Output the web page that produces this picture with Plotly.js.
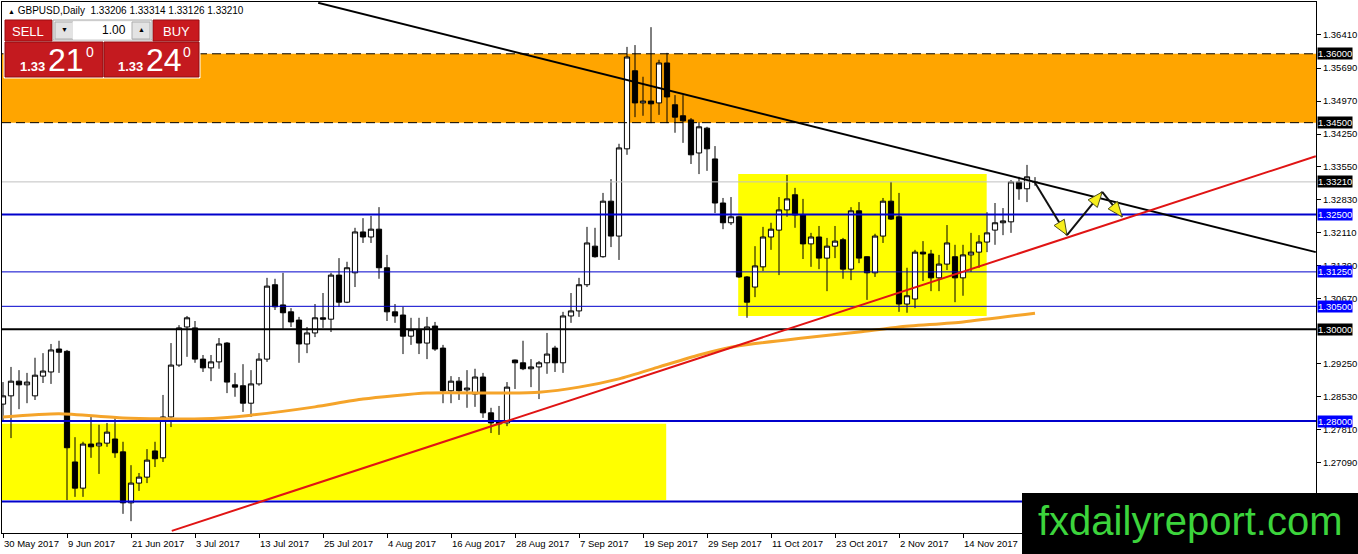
<!DOCTYPE html>
<html>
<head>
<meta charset="utf-8">
<script src="https://cdn.plot.ly/plotly-3.0.1.min.js"></script>
<style>
  body { margin: 0; background: #fff; }
  #chart { width: 1358px; height: 554px; }
</style>
</head>
<body>
<div id="chart"></div>
<script>
// GBPUSD daily, 30 May 2017 -> 27 Nov 2017 (one bar per trading day)

const opens = [
  1.2837, 1.2855, 1.2887, 1.2879, 1.2855, 1.2898, 1.2907, 1.2957, 1.2952, 1.2711,
  1.2654, 1.2750, 1.2746, 1.2752, 1.2761, 1.2733, 1.2622, 1.2665, 1.2678, 1.2735,
  1.2720, 1.2809, 1.2922, 1.3005, 1.3003, 1.2935, 1.2916, 1.2929, 1.2970, 1.2879,
  1.2877, 1.2839, 1.2881, 1.2935, 1.3097, 1.3053, 1.3038, 1.3020, 1.2968, 1.2992,
  1.3025, 1.3022, 1.3118, 1.3059, 1.3123, 1.3212, 1.3201, 1.3218, 1.3134, 1.3038,
  1.3031, 1.2985, 1.2999, 1.2970, 1.3007, 1.2959, 1.2866, 1.2887, 1.2868, 1.2859,
  1.2896, 1.2818, 1.2800, 1.2796, 1.2933, 1.2927, 1.2914, 1.2918, 1.2927, 1.2959,
  1.2927, 1.3029, 1.3040, 1.3097, 1.3181, 1.3158, 1.3279, 1.3203, 1.3393, 1.3563,
  1.3493, 1.3497, 1.3493, 1.3580, 1.3489, 1.3465, 1.3456, 1.3384, 1.3438, 1.3371,
  1.3275, 1.3232, 1.3245, 1.3114, 1.3092, 1.3136, 1.3201, 1.3216, 1.3260, 1.3293,
  1.3249, 1.3186, 1.3201, 1.3155, 1.3181, 1.3195, 1.3131, 1.3258, 1.3158, 1.3123,
  1.3203, 1.3279, 1.3245, 1.3055, 1.3066, 1.3168, 1.3164, 1.3112, 1.3142, 1.3158,
  1.3112, 1.3162, 1.3168, 1.3190, 1.3216, 1.3232, 1.3234, 1.3321, 1.3306, 1.33206
];
const highs = [
  1.2885, 1.2918, 1.2911, 1.2905, 1.2938, 1.2948, 1.2968, 1.2975, 1.2955, 1.2765,
  1.2755, 1.2813, 1.2792, 1.2796, 1.2809, 1.2755, 1.2704, 1.2687, 1.2739, 1.2755,
  1.2857, 1.2970, 1.3009, 1.3029, 1.3018, 1.2944, 1.2944, 1.2981, 1.2972, 1.2905,
  1.2924, 1.2911, 1.2948, 1.3112, 1.3110, 1.3123, 1.3046, 1.3027, 1.3005, 1.3055,
  1.3079, 1.3123, 1.3155, 1.3147, 1.3221, 1.3242, 1.3247, 1.3266, 1.3162, 1.3055,
  1.3049, 1.3025, 1.3025, 1.3027, 1.3016, 1.2966, 1.2898, 1.2896, 1.2911, 1.2914,
  1.2905, 1.2829, 1.2833, 1.2885, 1.2934, 1.2975, 1.2935, 1.2931, 1.2992, 1.2964,
  1.3038, 1.3079, 1.3112, 1.3223, 1.3221, 1.3297, 1.3327, 1.3404, 1.3615, 1.3619,
  1.3550, 1.3658, 1.3587, 1.3602, 1.3510, 1.3510, 1.3460, 1.3451, 1.3441, 1.3399,
  1.3286, 1.3288, 1.3246, 1.3116, 1.3181, 1.3223, 1.3232, 1.3288, 1.3336, 1.3308,
  1.3284, 1.3210, 1.3225, 1.3199, 1.3225, 1.3199, 1.3266, 1.3277, 1.3159, 1.3208,
  1.3286, 1.3321, 1.3297, 1.3134, 1.3173, 1.3192, 1.3173, 1.3162, 1.3227, 1.3184,
  1.3184, 1.3210, 1.3205, 1.3255, 1.3275, 1.3264, 1.3325, 1.3332, 1.3358, 1.33314
];
const lows = [
  1.2802, 1.2763, 1.2826, 1.2839, 1.2846, 1.2883, 1.2881, 1.2905, 1.2628, 1.2635,
  1.2635, 1.2720, 1.2685, 1.2744, 1.2720, 1.2598, 1.2582, 1.2648, 1.2665, 1.2700,
  1.2711, 1.2787, 1.2918, 1.2940, 1.2927, 1.2907, 1.2887, 1.2914, 1.2861, 1.2853,
  1.2820, 1.2809, 1.2877, 1.2929, 1.3042, 1.3001, 1.3005, 1.2927, 1.2948, 1.2983,
  1.3003, 1.2994, 1.3049, 1.3057, 1.3092, 1.3188, 1.3188, 1.3110, 1.3018, 1.3014,
  1.2946, 1.2966, 1.2946, 1.2935, 1.2953, 1.2839, 1.2839, 1.2846, 1.2829, 1.2831,
  1.2807, 1.2774, 1.2770, 1.2789, 1.2870, 1.2911, 1.2874, 1.2848, 1.2903, 1.2907,
  1.2905, 1.3014, 1.3027, 1.3092, 1.3156, 1.3156, 1.3179, 1.3151, 1.3380, 1.3462,
  1.3465, 1.3449, 1.3467, 1.3449, 1.3428, 1.3406, 1.3360, 1.3338, 1.3345, 1.3253,
  1.3218, 1.3227, 1.3112, 1.3025, 1.3070, 1.3127, 1.3173, 1.3118, 1.3245, 1.3221,
  1.3153, 1.3136, 1.3131, 1.3083, 1.3155, 1.3110, 1.3107, 1.3144, 1.3064, 1.3114,
  1.3188, 1.3238, 1.3038, 1.3036, 1.3046, 1.3105, 1.3083, 1.3083, 1.3129, 1.3059,
  1.3073, 1.3125, 1.3134, 1.3168, 1.3184, 1.3205, 1.3210, 1.3282, 1.3277, 1.33126
];
const closes = [
  1.2855, 1.2887, 1.2879, 1.2885, 1.2900, 1.2909, 1.2955, 1.2950, 1.2742, 1.2654,
  1.2750, 1.2744, 1.2752, 1.2776, 1.2731, 1.2622, 1.2665, 1.2678, 1.2715, 1.2718,
  1.2809, 1.2922, 1.3003, 1.3025, 1.2935, 1.2916, 1.2929, 1.2968, 1.2885, 1.2874,
  1.2839, 1.2881, 1.2935, 1.3094, 1.3049, 1.3036, 1.3016, 1.2968, 1.2992, 1.3025,
  1.3022, 1.3118, 1.3059, 1.3134, 1.3212, 1.3201, 1.3218, 1.3134, 1.3038, 1.3029,
  1.2985, 1.2999, 1.2970, 1.3005, 1.2957, 1.2866, 1.2887, 1.2866, 1.2872, 1.2896,
  1.2818, 1.2796, 1.2794, 1.2874, 1.2927, 1.2914, 1.2918, 1.2927, 1.2946, 1.2927,
  1.3029, 1.3040, 1.3097, 1.3188, 1.3158, 1.3279, 1.3203, 1.3395, 1.3593, 1.3493,
  1.3497, 1.3491, 1.3580, 1.3506, 1.3462, 1.3454, 1.3380, 1.3441, 1.3393, 1.3275,
  1.3232, 1.3245, 1.3114, 1.3059, 1.3138, 1.3201, 1.3218, 1.3260, 1.3284, 1.3249,
  1.3186, 1.3201, 1.3155, 1.3181, 1.3192, 1.3131, 1.3258, 1.3155, 1.3123, 1.3203,
  1.3279, 1.3240, 1.3055, 1.3073, 1.3168, 1.3164, 1.3112, 1.3142, 1.3188, 1.3112,
  1.3162, 1.3168, 1.3190, 1.3210, 1.3232, 1.3236, 1.3321, 1.3306, 1.3332, 1.33210
];

// moving average, read at a few bars
const maBars = [0, 7, 15, 25, 31, 39, 45, 53, 62, 67, 72, 77, 82, 87, 92, 100, 107, 112, 120, 129];
const maValues = [1.2809, 1.2816, 1.2807, 1.2805, 1.2813, 1.2831, 1.2848, 1.2861, 1.2861, 1.2863,
                  1.2874, 1.2892, 1.2918, 1.2944, 1.2964, 1.2981, 1.2994, 1.3005, 1.3016, 1.3035];

const tickBars = [0, 8, 16, 24, 32, 40, 48, 56, 64, 72, 80, 88, 96, 104, 112, 120];
const tickLabels = ["30 May 2017", "9 Jun 2017", "21 Jun 2017", "3 Jul 2017", "13 Jul 2017",
  "25 Jul 2017", "4 Aug 2017", "16 Aug 2017", "28 Aug 2017", "7 Sep 2017", "19 Sep 2017",
  "29 Sep 2017", "11 Oct 2017", "23 Oct 2017", "2 Nov 2017", "14 Nov 2017"];

// 1.29950 and 1.26370 sit under the 1.30000 tag and the logo, so they are left out
const priceTicks = [1.3641, 1.3569, 1.3497, 1.3425, 1.3355, 1.3283, 1.3211, 1.3139,
                    1.3067, 1.2925, 1.2853, 1.2781, 1.2709];

// horizontal levels
const levelPrices = [1.3600, 1.3450, 1.3321, 1.3250, 1.3125, 1.3050, 1.3000, 1.2800, 1.2625];
const levelColors = ["#000", "#000", "#c0c0c0", "#0000cc", "#0000cc", "#0000cc", "#000", "#0000cc", "#0000cc"];
const levelWidths = [1, 1, 1, 2, 1, 1, 2, 2, 2];
const levelDashed = [true, true, false, false, false, false, false, false, false];
const labelBg = ["#000", "#000", "#000", "#0000ff", "#0000ff", "#0000ff", "#000", "#0000ff", null];

// zones and trendlines
const resistZone = [1.3450, 1.3600];
const lowBox = {bars: [-0.2, 82.9], prices: [1.2628, 1.2794]};
const rangeBox = {bars: [91.9, 122.96], prices: [1.3029, 1.3338]};
const downTrend = {bars: [39.4, 164.1], prices: [1.3711, 1.3168]};
const upTrend = {bars: [21.1, 164.1], prices: [1.2561, 1.3377]};
const pathBars = [129, 133, 137.4, 139.9];
const pathPrices = [1.3319, 1.3205, 1.3299, 1.3245];

const xRange = [-0.125, 164.125];
const yRange = [1.25563, 1.37128];

const idx = opens.map((_, i) => i);

const candles = {
  type: "candlestick",
  x: idx, open: opens, high: highs, low: lows, close: closes,
  increasing: { line: { color: "#000", width: 1 }, fillcolor: "#ffffff" },
  decreasing: { line: { color: "#000", width: 1 }, fillcolor: "#000000" },
  whiskerwidth: 0,
  hoverinfo: "skip",
};

const ma = {
  type: "scatter", mode: "lines",
  x: maBars, y: maValues,
  line: { color: "#f5a42a", width: 3, shape: "spline", smoothing: 0.6 },
  hoverinfo: "skip",
};

// pixel -> paper helpers for the panel / logo
const PX = (px) => (px - 2) / 1314;
const PY = (py) => (533 - py) / 531;

const shapes = [];
shapes.push({ type: "rect", xref: "paper", x0: 0, x1: 1, yref: "y", y0: resistZone[0], y1: resistZone[1],
  fillcolor: "#ffa500", line: { width: 0 }, layer: "below" });
[lowBox, rangeBox].forEach(b => shapes.push({ type: "rect", xref: "x", yref: "y",
  x0: b.bars[0], x1: b.bars[1], y0: b.prices[0], y1: b.prices[1],
  fillcolor: "#ffff00", line: { width: 0 }, layer: "below" }));

levelPrices.forEach((p, i) => shapes.push({ type: "line", xref: "paper", x0: 0, x1: 1, yref: "y", y0: p, y1: p,
  line: { color: levelColors[i], width: levelWidths[i], dash: levelDashed[i] ? "9px,5px" : "solid" }, layer: "above" }));

shapes.push({ type: "line", xref: "x", yref: "y", x0: downTrend.bars[0], x1: downTrend.bars[1],
  y0: downTrend.prices[0], y1: downTrend.prices[1], line: { color: "#000", width: 2 }, layer: "above" });
shapes.push({ type: "line", xref: "x", yref: "y", x0: upTrend.bars[0], x1: upTrend.bars[1],
  y0: upTrend.prices[0], y1: upTrend.prices[1], line: { color: "#e01414", width: 2 }, layer: "above" });

// projected path with yellow arrow heads
const sx = 1314 / (xRange[1] - xRange[0]);
const sy = 531 / (yRange[1] - yRange[0]);
for (let k = 0; k < pathBars.length - 1; k++) {
  const x0 = pathBars[k], y0 = pathPrices[k], x1 = pathBars[k + 1], y1 = pathPrices[k + 1];
  shapes.push({ type: "line", xref: "x", yref: "y", x0, y0, x1, y1, line: { color: "#111", width: 2 }, layer: "above" });
  const dx = (x1 - x0) * sx, dy = (y1 - y0) * sy;
  const len = Math.hypot(dx, dy), ux = dx / len, uy = dy / len;
  const bx = -15 * ux, by = -15 * uy;
  const c1 = [x1 + (bx - 6 * uy) / sx, y1 + (by + 6 * ux) / sy];
  const c2 = [x1 + (bx + 6 * uy) / sx, y1 + (by - 6 * ux) / sy];
  shapes.push({ type: "path", xref: "x", yref: "y",
    path: `M${x1},${y1} L${c1[0]},${c1[1]} L${c2[0]},${c2[1]} Z`,
    fillcolor: "#f7ee1c", line: { color: "#505020", width: 1 }, layer: "above" });
}

// one-click trading panel
const rect = (x0, y0, x1, y1, fill, border) => shapes.push({ type: "rect", xref: "paper", yref: "paper",
  x0: PX(x0), x1: PX(x1), y0: PY(y1), y1: PY(y0), fillcolor: fill,
  line: { color: border || fill, width: 1 }, layer: "above" });
rect(4, 19, 200, 78, "#ffffff", "#ffffff");
rect(5, 20, 52, 41, "#c8191e", "#9c0c10");
rect(153, 20, 199, 41, "#c8191e", "#9c0c10");
rect(53, 20, 152, 40, "#f0f0f0", "#a8a8a8");
rect(55, 22, 73, 39, "#e3e3e3", "#adadad");
rect(73, 22, 132, 39, "#ffffff", "#ffffff");
rect(132, 22, 150, 39, "#e3e3e3", "#adadad");
rect(5, 42, 103, 77, "#c41a1f", "#8f0b0e");
rect(104, 42, 199, 77, "#c41a1f", "#8f0b0e");

// logo block
shapes.push({ type: "rect", xref: "paper", yref: "paper", x0: PX(1022), x1: PX(1360), y0: PY(556), y1: PY(493),
  fillcolor: "#000", line: { width: 0 }, layer: "above" });

const annotations = [];
const txt = (text, cx, cy, size, color, extra) => annotations.push(Object.assign({
  text, xref: "paper", yref: "paper", x: PX(cx), y: PY(cy), xanchor: "center", yanchor: "middle",
  showarrow: false, font: { family: "Liberation Sans, Arial, sans-serif", size, color } }, extra || {}));

txt('<span style="font-size:7px">▲</span> GBPUSD,Daily  1.33206 1.33314 1.33126 1.33210', 6, 10, 10, "#000", { xanchor: "left" });
txt("SELL", 28, 31, 13, "#fff");
txt("BUY", 176, 31, 13, "#fff");
txt("1.00", 128, 30, 12, "#000", { xanchor: "right" });
txt("▼", 64, 30, 7, "#000");
txt("▲", 141, 30, 7, "#000");
txt("<b>1.33</b>", 32, 67, 13, "#fff");
txt("21", 66, 60, 32, "#fff");
txt("0", 90, 52, 14, "#fff");
txt("<b>1.33</b>", 130, 67, 13, "#fff");
txt("24", 164, 60, 32, "#fff");
txt("0", 187, 52, 14, "#fff");
txt("fxdailyreport.com", 1190, 521, 40, "#3cd43c");

// date labels, left aligned at their tick like the terminal does
tickBars.forEach((b, i) => annotations.push({ text: tickLabels[i], xref: "x", yref: "paper", x: b, y: 0,
  xanchor: "left", yanchor: "top", yshift: -3, xshift: -1, showarrow: false,
  font: { family: "Liberation Sans, Arial, sans-serif", size: 9.5, color: "#000" } }));

// price level tags on the right axis
levelPrices.forEach((p, i) => {
  if (!labelBg[i]) return;
  annotations.push({ text: p.toFixed(5), xref: "paper", yref: "y", x: 1, y: p, xanchor: "left", yanchor: "middle",
    xshift: 1, showarrow: false, bgcolor: labelBg[i], borderpad: 0,
    font: { family: "Liberation Sans, Arial, sans-serif", size: 9.5, color: "#fff" } });
});

const layout = {
  width: 1358, height: 554,
  margin: { l: 2, r: 42, t: 2, b: 21 },
  paper_bgcolor: "#ffffff",
  plot_bgcolor: "#ffffff",
  showlegend: false,
  hovermode: false,
  dragmode: false,
  boxgap: 0.35, boxgroupgap: 0,
  font: { family: "Liberation Sans, Arial, sans-serif", size: 10, color: "#000" },
  xaxis: {
    range: xRange, fixedrange: true,
    rangeslider: { visible: false },
    showgrid: false, zeroline: false,
    showline: true, linecolor: "#000", linewidth: 1, mirror: true,
    ticks: "outside", ticklen: 4, tickcolor: "#000",
    tickvals: tickBars, showticklabels: false,
  },
  yaxis: {
    range: yRange, fixedrange: true, side: "right",
    showgrid: false, zeroline: false,
    showline: true, linecolor: "#000", linewidth: 1, mirror: true,
    ticks: "outside", ticklen: 4, tickcolor: "#000",
    tickvals: priceTicks, ticktext: priceTicks.map(v => v.toFixed(5)),
    tickfont: { size: 9.5, color: "#000" },
  },
  shapes,
  annotations,
};

Plotly.newPlot("chart", [candles, ma], layout, { displayModeBar: false, staticPlot: true });
</script>
</body>
</html>
